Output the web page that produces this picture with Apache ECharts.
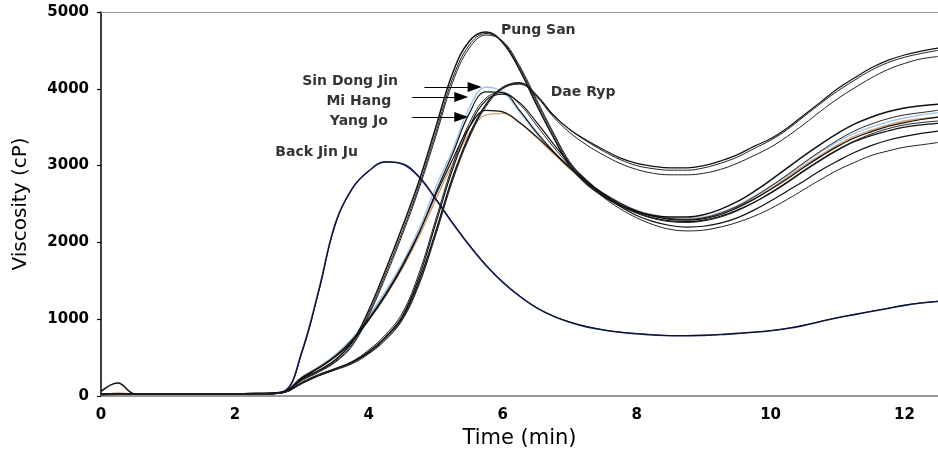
<!DOCTYPE html>
<html>
<head>
<meta charset="utf-8">
<script src="https://cdn.jsdelivr.net/npm/echarts@6/dist/echarts.min.js"></script>
<style>
  html, body { margin: 0; padding: 0; background: #fff; }
  #chart { width: 938px; height: 455px; }
</style>
</head>
<body>
<div id="chart"></div>
<script>
// Pasting viscosity profiles (RVA) of rice cultivars, sampled every 0.25 min
const timeMin = [0,0.25,0.5,0.75,1,1.25,1.5,1.75,2,2.25,2.5,2.75,3,3.25,3.5,3.75,4,4.25,4.5,4.75,5,5.25,5.5,5.75,6,6.25,6.5,6.75,7,7.25,7.5,7.75,8,8.25,8.5,8.75,9,9.25,9.5,9.75,10,10.25,10.5,10.75,11,11.25,11.5,11.75,12,12.25,12.5];

const backJinJuA = [15,25,25,25,25,25,25,25,25,30,35,70,580,1370,2250,2700,2930,3050,3020,2850,2560,2250,1960,1700,1480,1300,1150,1040,960,900,860,830,810,795,785,785,790,800,815,830,850,880,920,970,1020,1060,1100,1140,1180,1210,1230];
const backJinJuB = [20,25,25,25,25,25,25,25,25,30,35,65,560,1350,2230,2690,2930,3045,3025,2860,2570,2260,1970,1710,1490,1305,1155,1045,965,905,862,832,812,797,787,786,790,800,814,830,852,882,922,972,1020,1062,1102,1142,1182,1212,1235];
const pungSanA = [60,170,30,25,25,25,25,25,25,35,35,60,220,330,470,700,1120,1640,2200,2800,3500,4200,4620,4740,4600,4250,3800,3380,3000,2760,2600,2480,2400,2350,2330,2330,2360,2430,2530,2660,2810,2970,3130,3280,3420,3540,3630,3700,3750,3780,3800];
const pungSanB = [25,30,25,25,25,25,25,25,25,30,30,60,210,320,450,670,1080,1590,2140,2740,3430,4130,4570,4720,4610,4280,3840,3420,3030,2780,2610,2490,2400,2340,2310,2300,2320,2380,2470,2590,2730,2880,3040,3190,3330,3450,3540,3610,3660,3690,3720];
const pungSanC = [25,30,25,25,25,25,25,25,25,30,30,55,200,310,440,650,1050,1550,2100,2700,3380,4080,4530,4700,4620,4300,3870,3440,3050,2790,2610,2480,2380,2310,2270,2260,2280,2330,2410,2520,2650,2790,2940,3080,3210,3320,3410,3480,3530,3560,3580];
const sinDongJin = [20,25,25,25,25,25,25,25,25,30,30,70,250,380,540,750,1040,1370,1730,2180,2720,3200,3750,4020,3960,3700,3420,3180,2960,2780,2640,2520,2420,2360,2320,2310,2330,2390,2480,2600,2730,2880,3030,3180,3310,3420,3500,3570,3620,3660,3690];
const miHang = [20,25,25,25,25,25,25,25,25,30,30,60,230,360,510,710,990,1310,1680,2120,2650,3150,3680,3960,3950,3720,3440,3190,2970,2790,2640,2510,2410,2340,2300,2290,2310,2360,2450,2560,2690,2830,2980,3120,3250,3360,3440,3510,3560,3600,3630];
const yangJo = [20,25,25,25,25,25,25,25,25,30,30,60,240,370,520,730,1010,1330,1700,2130,2620,3080,3500,3720,3700,3560,3380,3180,2980,2790,2620,2470,2350,2270,2220,2200,2210,2250,2320,2420,2540,2670,2800,2940,3060,3170,3260,3330,3380,3420,3450];
const cultivarOrange = [0,40,25,25,25,25,25,25,25,30,30,60,240,370,520,720,990,1300,1660,2080,2560,3020,3420,3660,3680,3560,3370,3160,2960,2780,2630,2500,2410,2350,2310,2300,2320,2370,2460,2570,2700,2850,3000,3140,3270,3380,3460,3530,3580,3610,3630];
const cultivarLateA = [20,25,25,25,25,25,25,25,25,30,30,50,180,280,360,450,600,800,1080,1600,2300,3000,3550,3880,3950,3800,3530,3250,3000,2780,2590,2440,2320,2230,2170,2150,2160,2200,2260,2340,2440,2560,2690,2820,2940,3040,3130,3190,3240,3270,3300];
const cultivarLateB = [20,25,25,25,25,25,25,25,25,30,30,50,170,270,350,440,580,770,1040,1550,2250,2950,3500,3850,3930,3820,3570,3290,3030,2810,2630,2490,2390,2320,2280,2270,2290,2340,2420,2520,2640,2780,2930,3070,3200,3310,3390,3450,3500,3530,3550];
const daeRypA = [20,25,25,25,25,25,25,25,25,30,30,50,170,270,350,440,570,760,1020,1500,2150,2850,3400,3800,4020,4080,3920,3660,3470,3330,3210,3100,3030,2990,2970,2970,3000,3060,3140,3250,3350,3490,3660,3830,4000,4140,4270,4370,4440,4490,4530];
const daeRypB = [20,25,25,25,25,25,25,25,25,30,30,50,165,265,345,430,560,740,1000,1470,2120,2820,3380,3790,4010,4070,3920,3670,3470,3320,3190,3080,3000,2960,2940,2940,2970,3030,3110,3220,3330,3470,3640,3810,3970,4110,4240,4340,4410,4460,4500];
const daeRypC = [20,25,25,25,25,25,25,25,25,30,30,50,160,260,340,420,550,730,990,1450,2100,2800,3360,3770,4000,4060,3900,3640,3430,3270,3140,3030,2950,2900,2880,2880,2900,2950,3030,3130,3240,3380,3540,3710,3870,4010,4140,4250,4330,4390,4420];

// Cultivar name labels, placed in (time, viscosity) units
const labelNames = ['Pung San', 'Sin Dong Jin', 'Mi Hang', 'Yang Jo', 'Back Jin Ju', 'Dae Ryp'];
const labelTimes = [6.53, 3.72, 3.85, 3.85, 3.22, 7.2];
const labelVisc  = [4766, 4102, 3841, 3581, 3177, 3958];

// Pointer arrows: start and end in (time, viscosity)
const arrowFrom = [[4.83, 4023], [4.65, 3893], [4.65, 3633]];
const arrowTo   = [[5.58, 4023], [5.38, 3893], [5.38, 3633]];

const xTicks = { min: 0, max: 12.5, interval: 2 };
const yTicks = { min: 0, max: 5000, interval: 1000 };

const curves = [
  { name: 'Sin Dong Jin', data: sinDongJin, color: '#9cc3e8', width: 1.4 },
  { name: 'Orange', data: cultivarOrange, color: '#d4a172', width: 1.4 },
  { name: 'Back Jin Ju A', data: backJinJuA, color: '#1c2a86', width: 1.6 },
  { name: 'Back Jin Ju B', data: backJinJuB, color: '#111', width: 1.0 },
  { name: 'Pung San A', data: pungSanA, color: '#111', width: 1.5 },
  { name: 'Pung San B', data: pungSanB, color: '#222', width: 1.0 },
  { name: 'Pung San C', data: pungSanC, color: '#222', width: 1.0 },
  { name: 'Mi Hang', data: miHang, color: '#111', width: 1.2 },
  { name: 'Yang Jo', data: yangJo, color: '#111', width: 1.2 },
  { name: 'Late A', data: cultivarLateA, color: '#222', width: 1.0 },
  { name: 'Late B', data: cultivarLateB, color: '#111', width: 1.2 },
  { name: 'Dae Ryp A', data: daeRypA, color: '#111', width: 1.2 },
  { name: 'Dae Ryp B', data: daeRypB, color: '#222', width: 1.0 },
  { name: 'Dae Ryp C', data: daeRypC, color: '#222', width: 1.0 }
];

const tickFont = { fontFamily: 'DejaVu Sans', fontWeight: 'bold', fontSize: 15, color: '#000' };

const lineSeries = curves.map(c => ({
  name: c.name,
  type: 'line',
  data: timeMin.map((t, i) => [t, c.data[i]]),
  showSymbol: false,
  smooth: 0.4,
  lineStyle: { color: c.color, width: c.width },
  itemStyle: { color: c.color },
  silent: true,
  z: 2
}));

const labelSeries = {
  type: 'scatter',
  data: labelNames.map((n, i) => ({ name: n, value: [labelTimes[i], labelVisc[i]] })),
  symbolSize: 0,
  silent: true,
  label: {
    show: true,
    position: 'inside',
    formatter: p => p.name,
    fontFamily: 'DejaVu Sans',
    fontWeight: 'bold',
    fontSize: 14,
    color: '#000',
    textBorderWidth: 0
  },
  markLine: {
    silent: true,
    symbol: ['none', 'triangle'],
    symbolSize: [10, 14],
    label: { show: false },
    lineStyle: { color: '#000', width: 1, type: 'solid' },
    data: arrowFrom.map((f, i) => [{ coord: f }, { coord: arrowTo[i] }])
  },
  z: 5
};

const chart = echarts.init(document.getElementById('chart'), null, { renderer: 'canvas' });
chart.setOption({
  animation: false,
  backgroundColor: '#fff',
  grid: { left: 101, right: -4, top: 12, bottom: 59, containLabel: false },
  xAxis: [{
    type: 'value',
    min: xTicks.min, max: xTicks.max, interval: xTicks.interval,
    name: 'Time (min)',
    nameLocation: 'middle',
    nameGap: 32,
    nameTextStyle: { fontFamily: 'DejaVu Sans', fontSize: 21, color: '#000' },
    axisLine: { show: true, lineStyle: { color: '#777', width: 1.5 } },
    axisTick: { show: false },
    splitLine: { show: false },
    axisLabel: Object.assign({ margin: 12, showMaxLabel: false, formatter: v => String(v) }, tickFont)
  }, {
    type: 'value',
    position: 'top',
    min: xTicks.min, max: xTicks.max,
    axisLine: { show: true, onZero: false, lineStyle: { color: '#999', width: 1.2 } },
    axisTick: { show: false },
    axisLabel: { show: false },
    splitLine: { show: false }
  }],
  yAxis: {
    type: 'value',
    min: yTicks.min, max: yTicks.max, interval: yTicks.interval,
    name: 'Viscosity (cP)',
    nameLocation: 'middle',
    nameRotate: 90,
    nameGap: 70,
    nameTextStyle: { fontFamily: 'DejaVu Sans', fontSize: 20, color: '#000' },
    axisLine: { show: true, lineStyle: { color: '#000', width: 1.5 } },
    axisTick: { show: true, inside: false, length: 4, lineStyle: { color: '#000', width: 1.2 } },
    splitLine: { show: false },
    axisLabel: Object.assign({ margin: 12, formatter: v => String(v) }, tickFont)
  },
  series: lineSeries.concat([labelSeries])
});
</script>
</body>
</html>
